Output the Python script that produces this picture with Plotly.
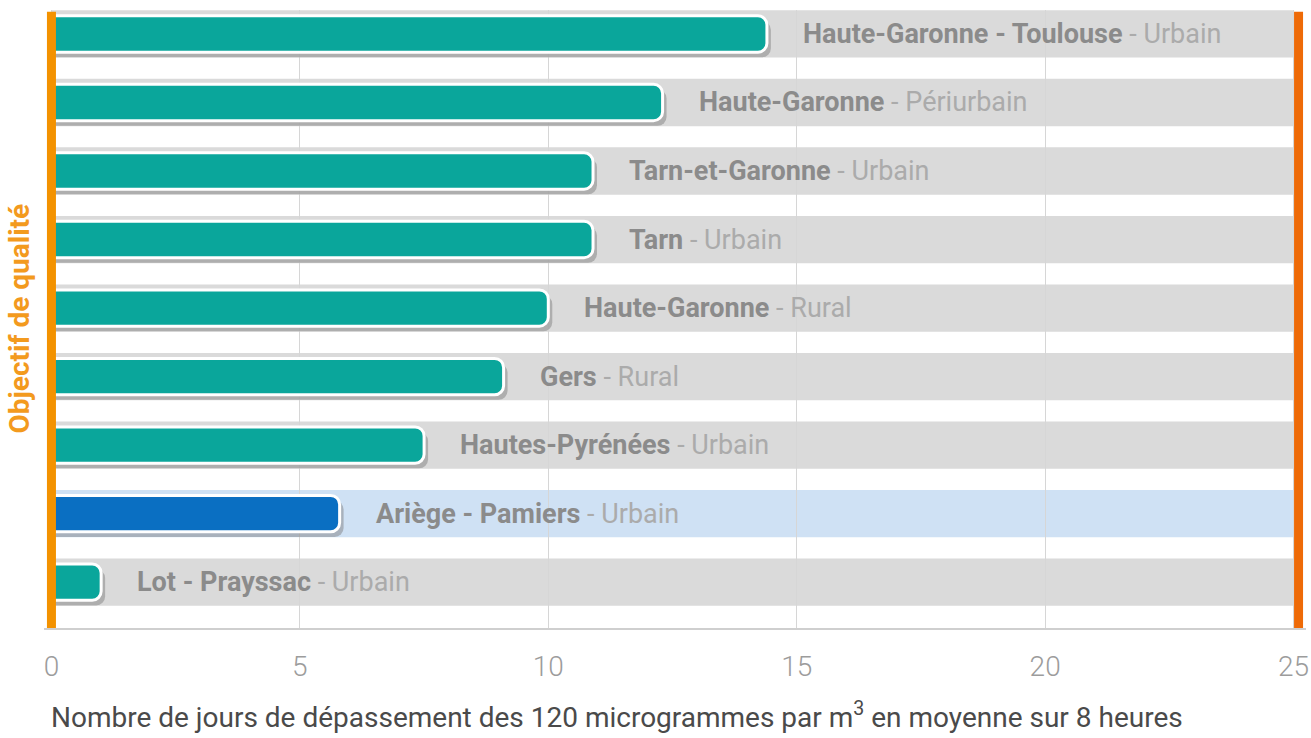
import plotly.graph_objects as go

# ---- data ----
places = ["Haute-Garonne - Toulouse", "Haute-Garonne", "Tarn-et-Garonne", "Tarn",
          "Haute-Garonne", "Gers", "Hautes-Pyrénées", "Ariège - Pamiers", "Lot - Prayssac"]
zones = ["Urbain", "Périurbain", "Urbain", "Urbain", "Rural", "Rural", "Urbain", "Urbain", "Urbain"]
days = [14.4, 12.3, 10.9, 10.9, 10.0, 9.1, 7.5, 5.8, 1.0]
highlight = [False, False, False, False, False, False, False, True, False]
objective_max = 25
x_ticks = [0, 5, 10, 15, 20, 25]

TEAL = "#0aa69b"
BLUE = "#0a6fc2"
BAND_GRAY = "#dadada"
BAND_BLUE = "#cfe1f4"
FONT = "Roboto, Liberation Sans, sans-serif"

idx = list(range(len(places)))
bar_colors = [BLUE if h else TEAL for h in highlight]

fig = go.Figure()

# background bands (full objective width) drawn below gridlines
for i, h in zip(idx, highlight):
    fig.add_shape(type="rect", xref="x", yref="y", x0=0, x1=objective_max,
                  y0=i - 0.345, y1=i + 0.345, fillcolor=BAND_BLUE if h else BAND_GRAY,
                  line=dict(width=0), layer="below")

# shadow
fig.add_trace(go.Bar(
    y=idx, x=[d + 0.08 for d in days], orientation="h", width=0.53, offset=-0.265 + 0.075,
    marker=dict(color="rgba(120,120,120,0.45)", line=dict(width=0), cornerradius=9),
    hoverinfo="skip", showlegend=False))

# bars
fig.add_trace(go.Bar(
    y=idx, x=days, orientation="h", width=0.53,
    marker=dict(color=bar_colors, line=dict(color="white", width=3), cornerradius=9),
    hovertemplate="%{x}<extra></extra>", showlegend=False))

# labels
for i, p, z, d in zip(idx, places, zones, days):
    fig.add_annotation(
        x=d, y=i, xref="x", yref="y", xanchor="left", yanchor="middle", xshift=34,
        text=f"<span style='color:#8b8b8b'><b>{p}</b></span><span style='color:#ababab'> - {z}</span>",
        showarrow=False, font=dict(family=FONT, size=27, color="#ababab"))

# objective lines (orange)
fig.add_shape(type="line", xref="x", yref="paper", x0=0, x1=0, y0=0, y1=0.997,
              line=dict(color="#f39200", width=9), layer="above")
fig.add_shape(type="line", xref="x", yref="paper", x0=objective_max + 0.1, x1=objective_max + 0.1,
              y0=0, y1=0.997, line=dict(color="#ee6a07", width=9), layer="above")

fig.add_annotation(
    xref="paper", yref="paper", x=0, y=0.5, xanchor="right", yanchor="middle", xshift=-7,
    text="<b>Objectif de qualité</b>", textangle=-90, showarrow=False,
    font=dict(family=FONT, size=28, color="#f39a1e"))

fig.add_annotation(
    xref="x", yref="paper", x=0, y=0, xanchor="left", yanchor="top", yshift=-67, xshift=-2,
    text="Nombre de jours de dépassement des 120 microgrammes par m<sup>3</sup> en moyenne sur 8 heures",
    showarrow=False, font=dict(family=FONT, size=28, color="#4a4a4a"))

fig.update_layout(
    width=1311, height=738,
    margin=dict(l=44, r=2, t=10, b=110),
    paper_bgcolor="white", plot_bgcolor="white",
    barmode="overlay",
    xaxis=dict(range=[-0.15, 25.25], tickvals=x_ticks, showgrid=True, gridcolor="#d6d6d6",
               gridwidth=1, zeroline=False, showline=True, linecolor="#cfcfcf", linewidth=2,
               tickfont=dict(family=FONT, size=28, color="#9c9c9c", weight=300), ticks="",
               ticklabelstandoff=12, ticklabeloverflow="allow"),
    yaxis=dict(range=[8.67, -0.35], showticklabels=False, showgrid=False, zeroline=False),
)

fig.write_html("out.html", config={"displayModeBar": False},
               post_script="document.body.style.margin='0';")
